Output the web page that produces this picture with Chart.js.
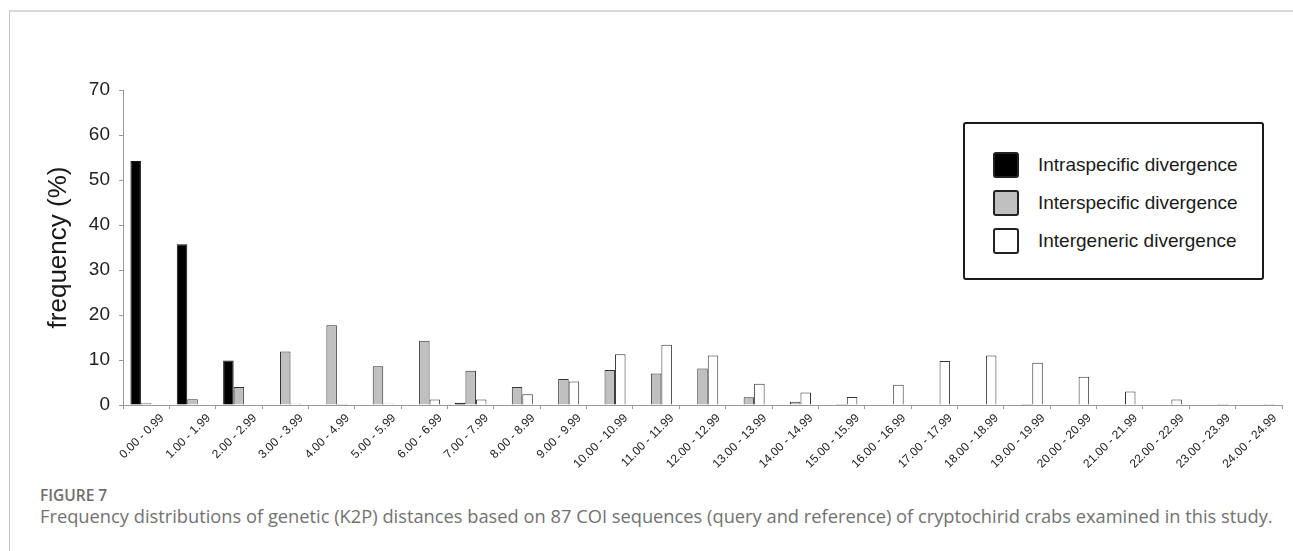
<!DOCTYPE html>
<html>
<head>
<meta charset="utf-8">
<script src="https://cdn.jsdelivr.net/npm/chart.js@4"></script>
<style>
  body { margin: 0; background: #fff; }
  .page { position: relative; width: 1293px; height: 551px; overflow: hidden; font-family: "Liberation Sans", Arial, sans-serif; }
  .frame { position: absolute; left: 9px; top: 10px; right: 0; bottom: 0; border-top: 2px solid #d9d9d9; border-left: 1px solid #c6c6c6; }
  #chart { position: absolute; left: 0; top: 0; }
  .legend { position: absolute; left: 963px; top: 122px; width: 297px; height: 154px; border: 2px solid #1a1a1a; border-radius: 3px; background: #fff; }
  .legend .row { position: absolute; left: 28px; height: 26px; display: flex; align-items: center; }
  .legend .sw { width: 22px; height: 22px; border: 2px solid #222; border-radius: 3px; margin-right: 19px; }
  .legend .txt { font-size: 19px; color: #1a1a1a; white-space: nowrap; }
  .fig { position: absolute; left: 40px; top: 484px; font-family: "Open Sans", sans-serif; font-weight: 600; font-size: 15.5px; color: #6e6e6e; }
  .cap { position: absolute; left: 40px; top: 503px; font-family: "Open Sans", sans-serif; font-size: 18.3px; color: #727272; white-space: nowrap; }
</style>
</head>
<body>
<div class="page">
  <div class="frame"></div>
  <canvas id="chart" width="1293" height="470"></canvas>
  <div class="legend" id="legend"></div>
  <div class="fig">FIGURE 7</div>
  <div class="cap">Frequency distributions of genetic (K2P) distances based on 87 COI sequences (query and reference) of cryptochirid crabs examined in this study.</div>
</div>
<script>
// distance classes (%)
const categories = [
  '0.00 - 0.99', '1.00 - 1.99', '2.00 - 2.99', '3.00 - 3.99', '4.00 - 4.99',
  '5.00 - 5.99', '6.00 - 6.99', '7.00 - 7.99', '8.00 - 8.99', '9.00 - 9.99',
  '10.00 - 10.99', '11.00 - 11.99', '12.00 - 12.99', '13.00 - 13.99', '14.00 - 14.99',
  '15.00 - 15.99', '16.00 - 16.99', '17.00 - 17.99', '18.00 - 18.99', '19.00 - 19.99',
  '20.00 - 20.99', '21.00 - 21.99', '22.00 - 22.99', '23.00 - 23.99', '24.00 - 24.99'
];

const intraspecific = [54.2, 35.7, 9.9, 0, 0, 0, 0, 0.5, 0, 0, 0, 0, 0, 0, 0, 0, 0, 0, 0, 0, 0, 0, 0, 0, 0];
const interspecific = [0.4, 1.3, 4.0, 11.9, 17.7, 8.6, 14.3, 7.6, 4.0, 5.8, 7.8, 7.0, 8.1, 1.7, 0.7, 0.2, 0, 0, 0, 0.2, 0, 0, 0, 0, 0];
const intergeneric = [0, 0, 0, 0.3, 0.2, 0.3, 1.2, 1.2, 2.4, 5.2, 11.3, 13.4, 11.0, 4.7, 2.8, 1.8, 4.5, 9.8, 11.0, 9.4, 6.3, 3.0, 1.2, 0.2, 0.2];

const yTicks = [0, 10, 20, 30, 40, 50, 60, 70];

Chart.defaults.font.family = '"Liberation Sans", Arial, sans-serif';
Chart.defaults.color = '#222';

const ctx = document.getElementById('chart').getContext('2d');

const chart = new Chart(ctx, {
    type: 'bar',
    data: {
        labels: categories,
        datasets: [
            {
                label: 'Intraspecific divergence',
                data: intraspecific,
                backgroundColor: '#000000',
                borderColor: '#111111',
                borderWidth: 1,
            },
            {
                label: 'Interspecific divergence',
                data: interspecific,
                backgroundColor: '#c0c0c0',
                borderColor: '#333333',
                borderWidth: 1,
            },
            {
                label: 'Intergeneric divergence',
                data: intergeneric,
                backgroundColor: '#ffffff',
                borderColor: '#333333',
                borderWidth: 1,
            },
        ],
    },
    options: {
        responsive: false,
        animation: false,
        categoryPercentage: 0.68,
        barPercentage: 1.0,
        layout: {
            padding: { left: 0, right: 11, top: 90, bottom: 0 },
        },
        plugins: {
            legend: { display: false },
            tooltip: { enabled: false },
        },
        scales: {
            x: {
                grid: {
                    display: true,
                    drawOnChartArea: false,
                    drawTicks: true,
                    tickLength: 4,
                    color: '#9a9a9a',
                },
                border: { display: true, color: '#9a9a9a', width: 1 },
                ticks: {
                    autoSkip: false,
                    minRotation: 45,
                    maxRotation: 45,
                    labelOffset: 16,
                    padding: 2,
                    font: { size: 12 },
                    color: '#222',
                },
                afterFit: (scale) => { scale.height = 65; },
            },
            y: {
                min: 0,
                max: 70,
                afterBuildTicks: (scale) => { scale.ticks = yTicks.map(v => ({ value: v })); },
                grid: {
                    display: true,
                    drawOnChartArea: false,
                    drawTicks: true,
                    tickLength: 4,
                    color: '#9a9a9a',
                },
                border: { display: true, color: '#9a9a9a', width: 1 },
                ticks: {
                    padding: 9,
                    font: { size: 19 },
                    color: '#222',
                },
                title: {
                    display: true,
                    text: 'frequency (%)',
                    font: { size: 26 },
                    color: '#1a1a1a',
                    padding: { top: 43, bottom: 0 },
                },
                afterFit: (scale) => { scale.width = 123; },
            },
        },
    },
});

// legend box built from the datasets
const legendEl = document.getElementById('legend');
const rowTops = [28, 66, 104];
chart.data.datasets.forEach((ds, i) => {
    const row = document.createElement('div');
    row.className = 'row';
    row.style.top = rowTops[i] + 'px';
    const sw = document.createElement('div');
    sw.className = 'sw';
    sw.style.background = ds.backgroundColor;
    const txt = document.createElement('span');
    txt.className = 'txt';
    txt.textContent = ds.label;
    row.appendChild(sw);
    row.appendChild(txt);
    legendEl.appendChild(row);
});
</script>
</body>
</html>
